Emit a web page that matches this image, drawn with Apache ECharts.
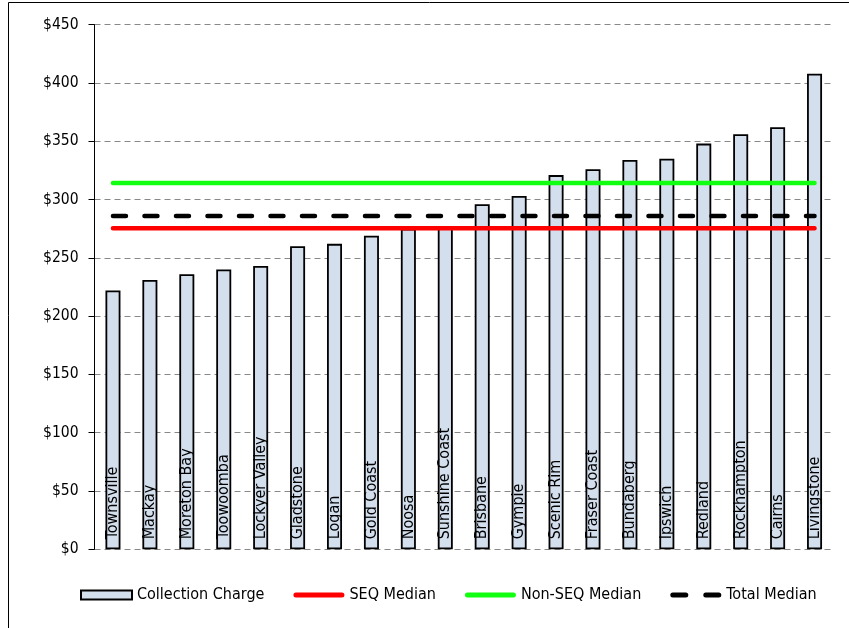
<!DOCTYPE html>
<html><head><meta charset="utf-8">
<script src="https://cdn.jsdelivr.net/npm/echarts@6/dist/echarts.min.js"></script>
<style>html,body{margin:0;padding:0;background:#fff}#c{width:849px;height:628px}</style>
</head><body><div id="c"></div>
<script>
const categories = ['Townsville','Mackay','Moreton Bay','Toowoomba','Lockyer Valley','Gladstone','Logan','Gold Coast','Noosa','Sunshine Coast','Brisbane','Gympie','Scenic Rim','Fraser Coast','Bundaberg','Ipswich','Redland','Rockhampton','Cairns','Livingstone'];
const collectionCharge = [222,231,236,240,243,260,262,269,275,276,296,303,321,326,334,335,348,356,362,408];
const seqMedian = 275.3;
const nonSeqMedian = 314.2;
const totalMedian = 286;
const yMin = 0, yMax = 450, yStep = 50;

const FONT = "'DejaVu Sans Condensed', 'DejaVu Sans', sans-serif";
const LINE_ICON = 'path://M2.5,0 H48.5 A2.5,2.5 0 0 1 48.5,5 H2.5 A2.5,2.5 0 0 1 2.5,0 Z';
const DASH_ICON = 'path://M2.5,0 H15.5 A2.5,2.5 0 0 1 15.5,5 H2.5 A2.5,2.5 0 0 1 2.5,0 Z M35.5,0 H48.5 A2.5,2.5 0 0 1 48.5,5 H35.5 A2.5,2.5 0 0 1 35.5,0 Z';
const chart = echarts.init(document.getElementById('c'), null, {renderer: 'canvas'});
chart.setOption({
  animation: false,
  backgroundColor: '#fff',
  textStyle: {fontFamily: FONT},
  graphic: [{type: 'rect', shape: {x: 8.5, y: 2.5, width: 900, height: 700}, style: {fill: 'none', stroke: '#000', lineWidth: 1}, z: 100, silent: true}],
  grid: {left: 94.5, right: 16, top: 24.7, bottom: 78.7, containLabel: false},
  legend: {
    left: 75, top: 582, itemWidth: 51, itemHeight: 9, itemGap: 29,
    textStyle: {fontFamily: FONT, fontSize: 16, color: '#000'},
    data: [
      {name: 'Collection Charge', icon: 'rect'},
      {name: 'SEQ Median', icon: LINE_ICON, itemStyle: {color: '#FF0000', borderWidth: 0}},
      {name: 'Non-SEQ Median', icon: LINE_ICON, itemStyle: {color: '#11FF11', borderWidth: 0}},
      {name: 'Total Median', icon: DASH_ICON, itemStyle: {color: '#000', borderWidth: 0}}
    ]
  },
  xAxis: {
    type: 'category', data: categories,
    axisLine: {show: false}, axisTick: {show: false},
    axisLabel: {inside: true, rotate: 90, margin: 10, fontFamily: FONT, fontSize: 16, color: '#000', interval: 0},
    z: 10
  },
  yAxis: {
    type: 'value', min: yMin, max: yMax, interval: yStep,
    axisLine: {show: true, lineStyle: {color: '#000', width: 1}},
    axisTick: {show: true, length: 6, lineStyle: {color: '#000'}},
    axisLabel: {margin: 16, fontFamily: FONT, fontSize: 15.5, color: '#000', formatter: v => '$' + v},
    splitLine: {show: true, lineStyle: {color: '#888', type: [6, 4], width: 1}}
  },
  series: [
    {name: 'Collection Charge', type: 'bar', data: collectionCharge, barWidth: 15,
     itemStyle: {color: '#D4DFEE', borderColor: '#000', borderWidth: 1.8}, z: 2},
    {name: 'SEQ Median', type: 'line', data: categories.map(() => seqMedian), symbol: 'none',
     lineStyle: {color: '#FF0000', width: 4.5, cap: 'round'}, itemStyle: {color: '#FF0000'}, z: 5},
    {name: 'Non-SEQ Median', type: 'line', data: categories.map(() => nonSeqMedian), symbol: 'none',
     lineStyle: {color: '#11FF11', width: 4.5, cap: 'round'}, itemStyle: {color: '#11FF11'}, z: 5},
    {name: 'Total Median', type: 'line', data: categories.map(() => totalMedian), symbol: 'none',
     lineStyle: {color: '#000', width: 4.5, cap: 'round', type: [13, 18.5]}, itemStyle: {color: '#000'}, z: 5}
  ]
});
</script></body></html>
